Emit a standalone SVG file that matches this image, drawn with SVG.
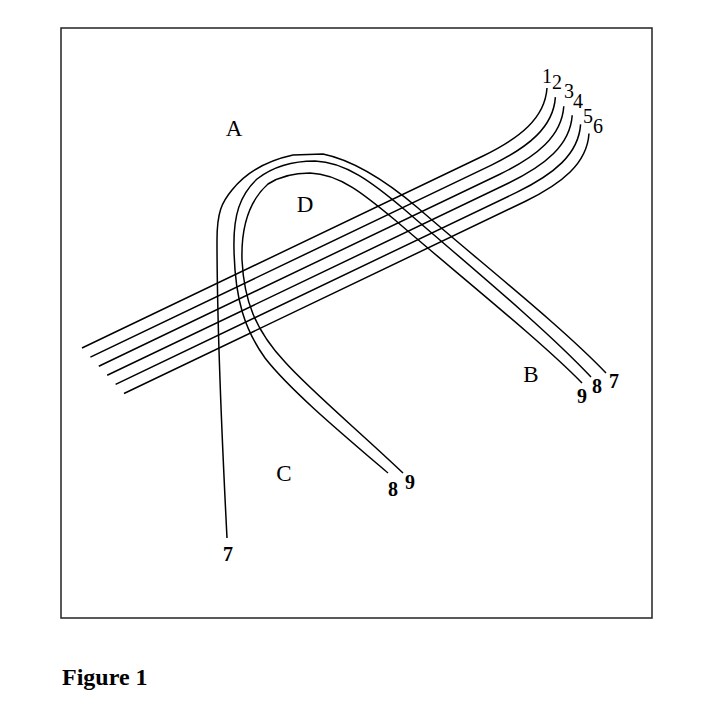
<svg xmlns="http://www.w3.org/2000/svg" width="707" height="701" viewBox="0 0 707 701">
<style>
.ln{fill:none;stroke:#000;stroke-width:1.5;stroke-linejoin:round}
.frame{fill:none;stroke:#222;stroke-width:1.5}
.lab{font-family:"Liberation Serif","Times New Roman",serif;fill:#000}
.big{font-size:23px;text-anchor:middle}
.num{font-size:20px;text-anchor:middle}
.bnum{font-size:20px;font-weight:bold;text-anchor:middle}
</style>
<defs>
<path id="wire" d="M82,348 L483,156 C520,138 545,118 547,88"/>
</defs>
<rect class="frame" x="61" y="28" width="591" height="590"/>
<g id="connectors">
<g id="lines1-6">
<use href="#wire" class="ln"/>
<use href="#wire" class="ln" transform="translate(8.4,9.1)"/>
<use href="#wire" class="ln" transform="translate(16.8,18.2)"/>
<use href="#wire" class="ln" transform="translate(25.2,27.3)"/>
<use href="#wire" class="ln" transform="translate(33.6,36.4)"/>
<use href="#wire" class="ln" transform="translate(42,45.5)"/>
</g>
<path id="curve7" class="ln" d="M227,538 C222,440 217,330 217,240 C217,212 222,202 232,190 C248,170 270,160 293,155 L323,154 C352,160 385,180 418,208 C480,262 560,325 606,373"/>
<path id="curve8" class="ln" d="M388,473 C340,432 290,390 265,358 C245,330 235,300 234,250 C233,215 240,195 257,179 C275,165 295,161 315,161 C345,162 372,182 405,210 C465,262 545,328 591,377"/>
<path id="curve9" class="ln" d="M403,473 C360,432 310,390 285,362 C255,330 244,300 242,260 C241,225 250,200 268,184 C282,175 295,173 310,173 C340,174 365,195 395,220 C455,272 540,340 582,383"/>
</g>
<g id="regions">
<text class="lab big" x="234" y="136">A</text>
<text class="lab big" x="305" y="212">D</text>
<text class="lab big" x="531" y="382">B</text>
<text class="lab big" x="284" y="481">C</text>
</g>
<g id="line-labels">
<text class="lab num" x="547" y="83">1</text>
<text class="lab num" x="557" y="89">2</text>
<text class="lab num" x="569" y="98">3</text>
<text class="lab num" x="578" y="108">4</text>
<text class="lab num" x="588" y="123">5</text>
<text class="lab num" x="598" y="133">6</text>
</g>
<g id="curve-labels">
<text class="lab bnum" x="614" y="388">7</text>
<text class="lab bnum" x="597" y="393">8</text>
<text class="lab bnum" x="582" y="403">9</text>
<text class="lab bnum" x="393" y="496">8</text>
<text class="lab bnum" x="410" y="489">9</text>
<text class="lab bnum" x="228" y="561">7</text>
</g>
<text class="lab" x="62" y="685" font-size="24" font-weight="bold">Figure 1</text>
</svg>
